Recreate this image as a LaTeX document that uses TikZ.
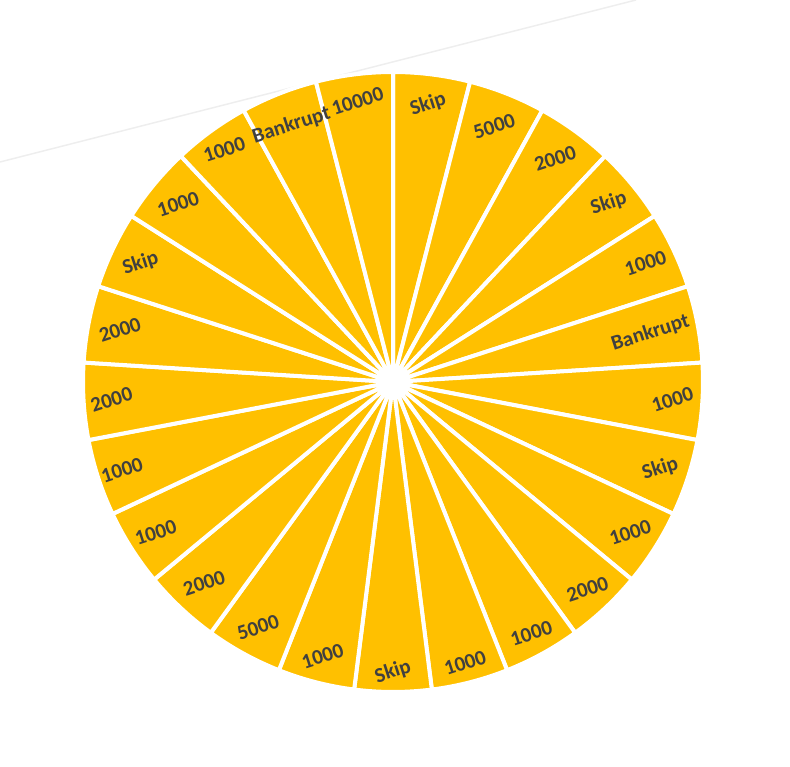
\documentclass[tikz,border=0pt]{standalone}
\usepackage{fontspec}
\setmainfont{Carlito}
\definecolor{wheel}{HTML}{FFC000}
\definecolor{lbltext}{HTML}{404040}
\definecolor{faint}{HTML}{EEEEEE}
\tikzset{
  slice/.style={fill=wheel, draw=white, line width=4pt, line join=miter},
  lbl/.style={text=lbltext, font=\fontsize{21}{24}\selectfont\bfseries, rotate=18, inner sep=0pt},
  faintline/.style={draw=faint, line width=1.5pt}
}
\begin{document}
\begin{tikzpicture}[x=1pt,y=1pt]
\useasboundingbox (0,0) rectangle (790,766);
\coordinate (fa) at (0,604);
\coordinate (fb) at (636,766);
\draw[faintline] (fa) -- (fb);
\coordinate (c) at (393,384);
\foreach \i in {0,...,24}{
  \pgfmathsetmacro{\aone}{90-14.4*\i}
  \pgfmathsetmacro{\atwo}{90-14.4*(\i+1)}
  \filldraw[slice] (c) -- ++(\aone:310) arc[start angle=\aone, end angle=\atwo, radius=310] -- cycle;
}
\foreach \t/\r [count=\i from 0] in {Skip/280, 5000/275, 2000/276, Skip/280, 1000/279, Bankrupt/262, 1000/280, Skip/281, 1000/281, 2000/284, 1000/287, 1000/290, Skip/290, 1000/283, 5000/280, 2000/276, 1000/281, 1000/285, 2000/282, 2000/278, Skip/279, 1000/279, 1000/287, Bankrupt/276, 10000/283}{
  \pgfmathsetmacro{\am}{82.8-14.4*\i}
  \path (c) ++(\am:\r) node[lbl] (l\i) {\t};
}
\end{tikzpicture}
\end{document}
